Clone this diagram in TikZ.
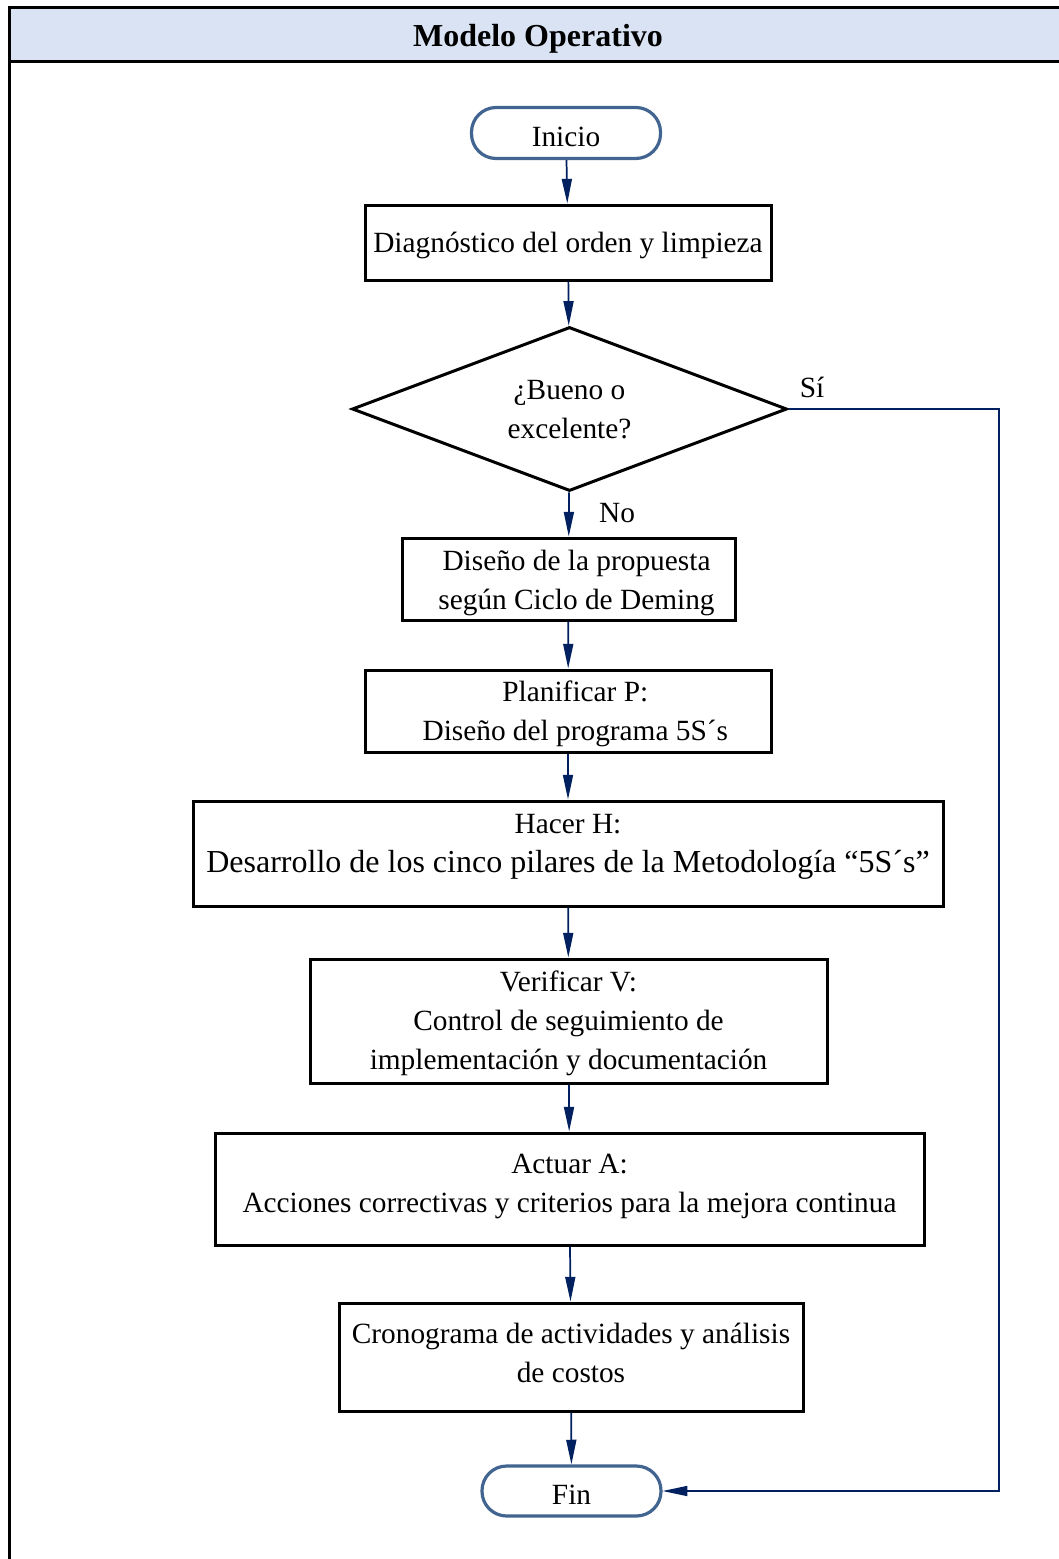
\documentclass[tikz,border=0pt]{standalone}
\usepackage{fontspec}
\setmainfont{Liberation Serif}
\usetikzlibrary{arrows.meta,shapes.geometric}
\definecolor{headfill}{RGB}{218,227,243}
\definecolor{termblue}{RGB}{65,100,145}
\definecolor{navy}{RGB}{0,32,96}
\begin{document}
\begin{tikzpicture}[x=0.75pt,y=-0.75pt,
  every node/.style={font=\fontsize{22}{29.25}\selectfont},
  dims/.style 2 args={minimum width=#1*0.75pt, minimum height=#2*0.75pt},
  stepbox/.style={draw=black, line width=2.25pt, inner sep=0pt},
  term/.style={draw=termblue, line width=2.4pt, rounded corners=18.5pt, inner sep=0pt},
  decision/.style={draw=black, line width=2.25pt, diamond, inner sep=0pt},
  txt/.style={align=center, inner sep=0pt},
  flow/.style={draw=navy, line width=1.3pt, -{Triangle[length=18.5pt,width=7.5pt]}},
  ]
\useasboundingbox (0,0) rectangle (1059,1559);
\clip (0,0) rectangle (1059,1559);

% frame and title band
\fill[headfill] (9,8) rectangle (1075,62);
\draw[line width=2.25pt] (9,1575) -- (9,8) -- (1075,8);
\draw[line width=2.25pt] (9,62) -- (1075,62);
\node[font=\fontsize{24}{28}\selectfont\bfseries] (title) at (538,38.5) {Modelo Operativo};

% terminals
\node[term, dims={189}{51}] (ini) at (566,133) {};
\node[txt] (iniT) at ([yshift=-3pt]ini.center) {Inicio};
\node[term, dims={179}{50}] (fin) at (571.5,1491) {};
\node[txt] (finT) at ([yshift=-3pt]fin.center) {Fin};

% process steps
\node[stepbox, dims={406}{75}] (diag) at (568,242.5) {};
\node[txt] (diagT) at ([yshift=-2.25pt]diag.center) {Diagnóstico del orden y limpieza};

\node[decision, dims={435}{164}] (dec) at (569.5,409) {};
\node[txt] (decT) at ([yshift=-0.75pt]dec.center) {¿Bueno o\\excelente?};

\node[stepbox, dims={333}{82}] (dis) at (568.5,579) {};
\node[txt] (disT) at ([xshift=6pt,yshift=-2.75pt]dis.center) {Diseño de la propuesta\\según Ciclo de Deming};

\node[stepbox, dims={406}{82}] (plan) at (568,711) {};
\node[txt] (planT) at ([xshift=5.5pt,yshift=-2.25pt]plan.center) {Planificar P:\\Diseño del programa 5S´s};

\node[stepbox, dims={750}{105}] (hac) at (568,853.5) {};
\node[txt] (hacT) at ([yshift=4.9pt]hac.center) {Hacer H:\\{\fontsize{24}{29.25}\selectfont Desarrollo de los cinco pilares de la Metodología “5S´s”}};

\node[stepbox, dims={517}{124}] (ver) at (568.5,1021) {};
\node[txt] (verT) at ([yshift=-1.5pt]ver.center) {Verificar V:\\Control de seguimiento de\\implementación y documentación};

\node[stepbox, dims={709}{112}] (act) at (569.5,1189) {};
\node[txt] (actT) at ([yshift=2.25pt]act.center) {Actuar A:\\Acciones correctivas y criterios para la mejora continua};

\node[stepbox, dims={464}{108}] (cro) at (571,1357) {};
\node[txt] (croT) at ([yshift=3pt]cro.center) {Cronograma de actividades y análisis\\de costos};

% branch labels
\node (si) at (812,387) {Sí};
\node (no) at (617,513) {No};

% connectors
\draw[flow] (ini) -- (diag);
\draw[flow] (diag) -- (dec);
\draw[flow] (dec) -- (dis);
\draw[flow] (dis) -- (plan);
\draw[flow] (plan) -- (hac);
\draw[flow] (hac) -- (ver);
\draw[flow] (ver) -- (act);
\draw[flow] (act) -- (cro);
\draw[flow] (cro) -- (fin);
\coordinate (turn) at (999,409);
\draw[flow, line width=1.1pt] (dec.east) -- (turn) |- (fin.east);
\end{tikzpicture}
\end{document}
